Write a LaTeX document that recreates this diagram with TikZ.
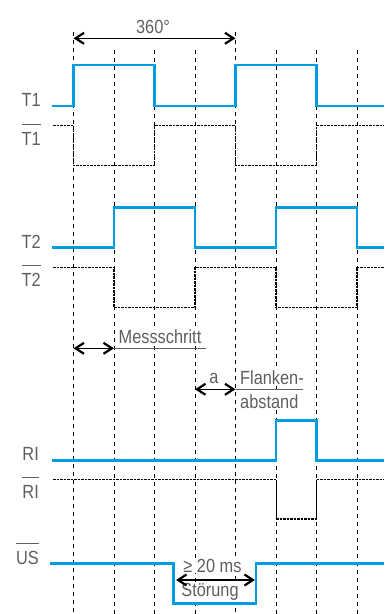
\documentclass[tikz,border=0pt]{standalone}
\usepackage{fontspec}
\setmainfont{Liberation Sans}[FakeStretch=0.86]
\usetikzlibrary{positioning,arrows.meta}
\definecolor{sigblue}{RGB}{0,158,224}
\definecolor{labgray}{RGB}{95,95,95}
\def\dx{40.5}
\tikzstyle{grid}=[black,dash pattern=on 4pt off 4pt,line width=0.8pt]
\tikzstyle{sig}=[sigblue,line width=2.8pt]
\tikzstyle{inv}=[black,dash pattern=on 2.5pt off 1pt,line width=1.3pt]
\tikzstyle{lbl}=[text=labgray,font=\fontsize{19}{19}\selectfont,inner sep=1pt]
\tikzstyle{tag}=[lbl,anchor=base east]
\tikzstyle{note}=[lbl,fill=white]
\tikzstyle{dim}=[<->,black,line width=1.1pt]
\tikzstyle{rule}=[labgray,line width=1.1pt]
\newcommand{\ovl}[1]{\vbox{\hrule height 1pt\kern 7pt\hbox{#1}}}

\begin{document}
\begin{tikzpicture}[x=1pt,y=-1pt,
      >={Straight Barb[length=8.5pt,width=11pt,line width=2.2pt]}
      ]
      \useasboundingbox (0,0) rectangle (384,614);
      % raster
      \foreach \xx/\yy in {73.5/32,114/50,154.5/50,195/50,235.5/32,276/50,316.5/50,357/50}
        \draw[grid] (\xx,\yy) -- (\xx,614);

      % signal names
      \node[tag] (t1) at (42,106.7) {T1};
      \node[tag] (t1n) at (42,145) {\ovl{T1}};
      \node[tag] (t2) at (42,248.3) {T2};
      \node[tag] (t2n) at (42,286.7) {\ovl{T2}};
      \node[tag] (ri) at (40,460) {RI};
      \node[tag] (rin) at (40,498.3) {\ovl{RI}};
      \node[tag] (us) at (40,564) {\ovl{US}};

      % dimensions
      \coordinate (p0) at (73.5,38.3);
      \coordinate (p1) at (235.5,38.3);
      \draw[dim] (p0) -- (p1);
      \node[lbl,anchor=base] (deg) at (153,33) {360°};

      \coordinate (m0) at (73.5,348.3);
      \coordinate (m1) at (114,348.3);
      \coordinate (m2) at (205.7,348.3);
      \node[note,anchor=base west] (mess) at (117.5,343) {Messschritt};
      \draw[dim] (m0) -- (m1);
      \draw[rule] (m1) -- (m2);

      \coordinate (a0) at (195,389.3);
      \coordinate (a1) at (235.5,389.3);
      \coordinate (a2) at (303,389.3);
      \node[note,anchor=base] (a) at (214,383) {a};
      \node[note,anchor=base west] (fl) at (239,384) {Flanken-};
      \node[note,anchor=base west] (ab) at (239,408) {abstand};
      \draw[dim] (a0) -- (a1);
      \draw[rule] (a1) -- (a2);

      \node[note,anchor=base] (ms) at (212.5,572.3) {≥ 20 ms};
      \node[note,anchor=base] (st) at (210,596.7) {Störung};
      \coordinate (s0) at (176,580);
      \coordinate (s1) at (255,580);
      \draw[dim] (s0) -- (s1);

      % inverted signals
      \draw[inv] (53,125.5) -| (73.5,165.5) -| (154.5,125.5) -| (235.5,165.5) -| (316.5,125.5) -- (384,125.5);
      \draw[inv] (53,267.3) -| (114,307.7) -| (195,267.3) -| (276,307.7) -| (357,267.3) -- (384,267.3);
      \draw[inv] (53,479.7) -- (276,479.7);
      \draw[black,line width=1pt] (276,479.7) -- (276,519);
      \draw[inv] (276,519) -- (316.5,519);
      \draw[black,line width=1pt] (316.5,519) -- (316.5,479.7);
      \draw[inv] (316.5,479.7) -- (384,479.7);

      % signals
      \draw[sig] (52,106) -| (73.5,65) -| (154.5,106) -| (235.5,65) -| (316.5,106) -- (384,106);
      \draw[sig] (52,247.7) -| (114,207.3) -| (195,247.7) -| (276,207.3) -| (357,247.7) -- (384,247.7);
      \draw[sig] (52,460.7) -| (276,420.7) -| (316.5,460.7) -- (384,460.7);
      \draw[sig] (50,563.3) -| (173.5,603.3) -| (256,563.3) -- (384,563.3);
    \end{tikzpicture}
\end{document}
